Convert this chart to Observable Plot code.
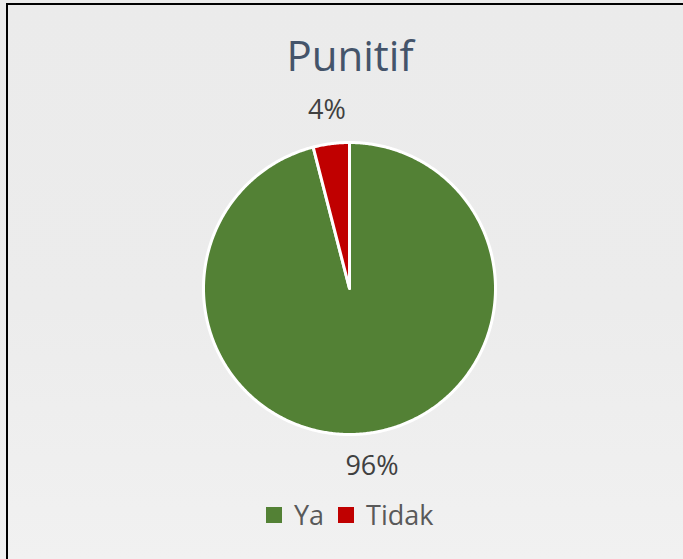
<!DOCTYPE html>
<html>
<head>
<meta charset="utf-8">
<script src="https://cdn.jsdelivr.net/npm/d3@7"></script>
<script src="https://cdn.jsdelivr.net/npm/@observablehq/plot@0.6"></script>
<style>
  html, body { margin: 0; padding: 0; }
  body {
    width: 683px; height: 559px; overflow: hidden; position: relative;
    background: linear-gradient(#ebebeb 0%, #ececec 55%, #f1f1f1 100%);
    font-family: "Open Sans", sans-serif;
  }
  #frame {
    position: absolute; left: 6px; top: 3px; width: 720px; height: 600px;
    border-left: 2px solid #000; border-top: 2px solid #000; box-sizing: border-box;
  }
  #title {
    position: absolute; left: 0; top: 34px; width: 700px; text-align: center;
    font-size: 42px; line-height: 1; color: #44546A;
  }
  #chart { position: absolute; left: 0; top: 90px; }
  #legend {
    position: absolute; left: 266px; top: 501px; display: flex; align-items: flex-start;
    font-size: 27px; line-height: 1; color: #595959;
  }
  .sw { width: 16px; height: 16px; margin-top: 6px; }
</style>
</head>
<body>
<div id="frame"></div>
<div id="title">Punitif</div>
<div id="chart"></div>
<div id="legend"></div>
<script>
const categories = ["Ya", "Tidak"];
const values = [96, 4];
const labels = ["96%", "4%"];
const colors = ["#538135", "#C00000"];

const total = d3.sum(values);
let acc = 0;
const slicePts = [];
const labelPts = [];
categories.forEach((c, i) => {
  const a0 = acc / total * 2 * Math.PI;
  acc += values[i];
  const a1 = acc / total * 2 * Math.PI;
  slicePts.push({cat: c, x: 0, y: 0});
  const n = Math.max(2, Math.ceil((a1 - a0) / (Math.PI / 360)));
  for (let k = 0; k <= n; k++) {
    const a = a0 + (a1 - a0) * k / n;
    slicePts.push({cat: c, x: Math.sin(a), y: Math.cos(a)});
  }
  const am = (a0 + a1) / 2;
  labelPts.push({cat: c, label: labels[i], x: 1.23 * Math.sin(am), y: 1.23 * Math.cos(am)});
});

const plot = Plot.plot({
  width: 683, height: 469,
  marginLeft: 203, marginRight: 188, marginTop: 52, marginBottom: 125,
  x: {domain: [-1, 1], axis: null},
  y: {domain: [-1, 1], axis: null},
  color: {domain: categories, range: colors},
  style: {background: "transparent", overflow: "visible", fontFamily: "Open Sans"},
  marks: [
    Plot.line(slicePts, {x: "x", y: "y", z: "cat", fill: "cat", stroke: "white",
      strokeWidth: 3, curve: "linear-closed", strokeLinejoin: "round"}),
    Plot.text(labelPts, {x: "x", y: "y", text: "label", fontSize: 27, fill: "#404040", lineAnchor: "middle"})
  ]
});
document.getElementById("chart").appendChild(plot);

const legend = document.getElementById("legend");
categories.forEach((c, i) => {
  const sw = document.createElement("span");
  sw.className = "sw";
  sw.style.background = colors[i];
  sw.style.marginRight = "12px";
  sw.style.marginLeft = i === 0 ? "0" : "14px";
  const t = document.createElement("span");
  t.textContent = c;
  legend.appendChild(sw);
  legend.appendChild(t);
});
</script>
</body>
</html>
